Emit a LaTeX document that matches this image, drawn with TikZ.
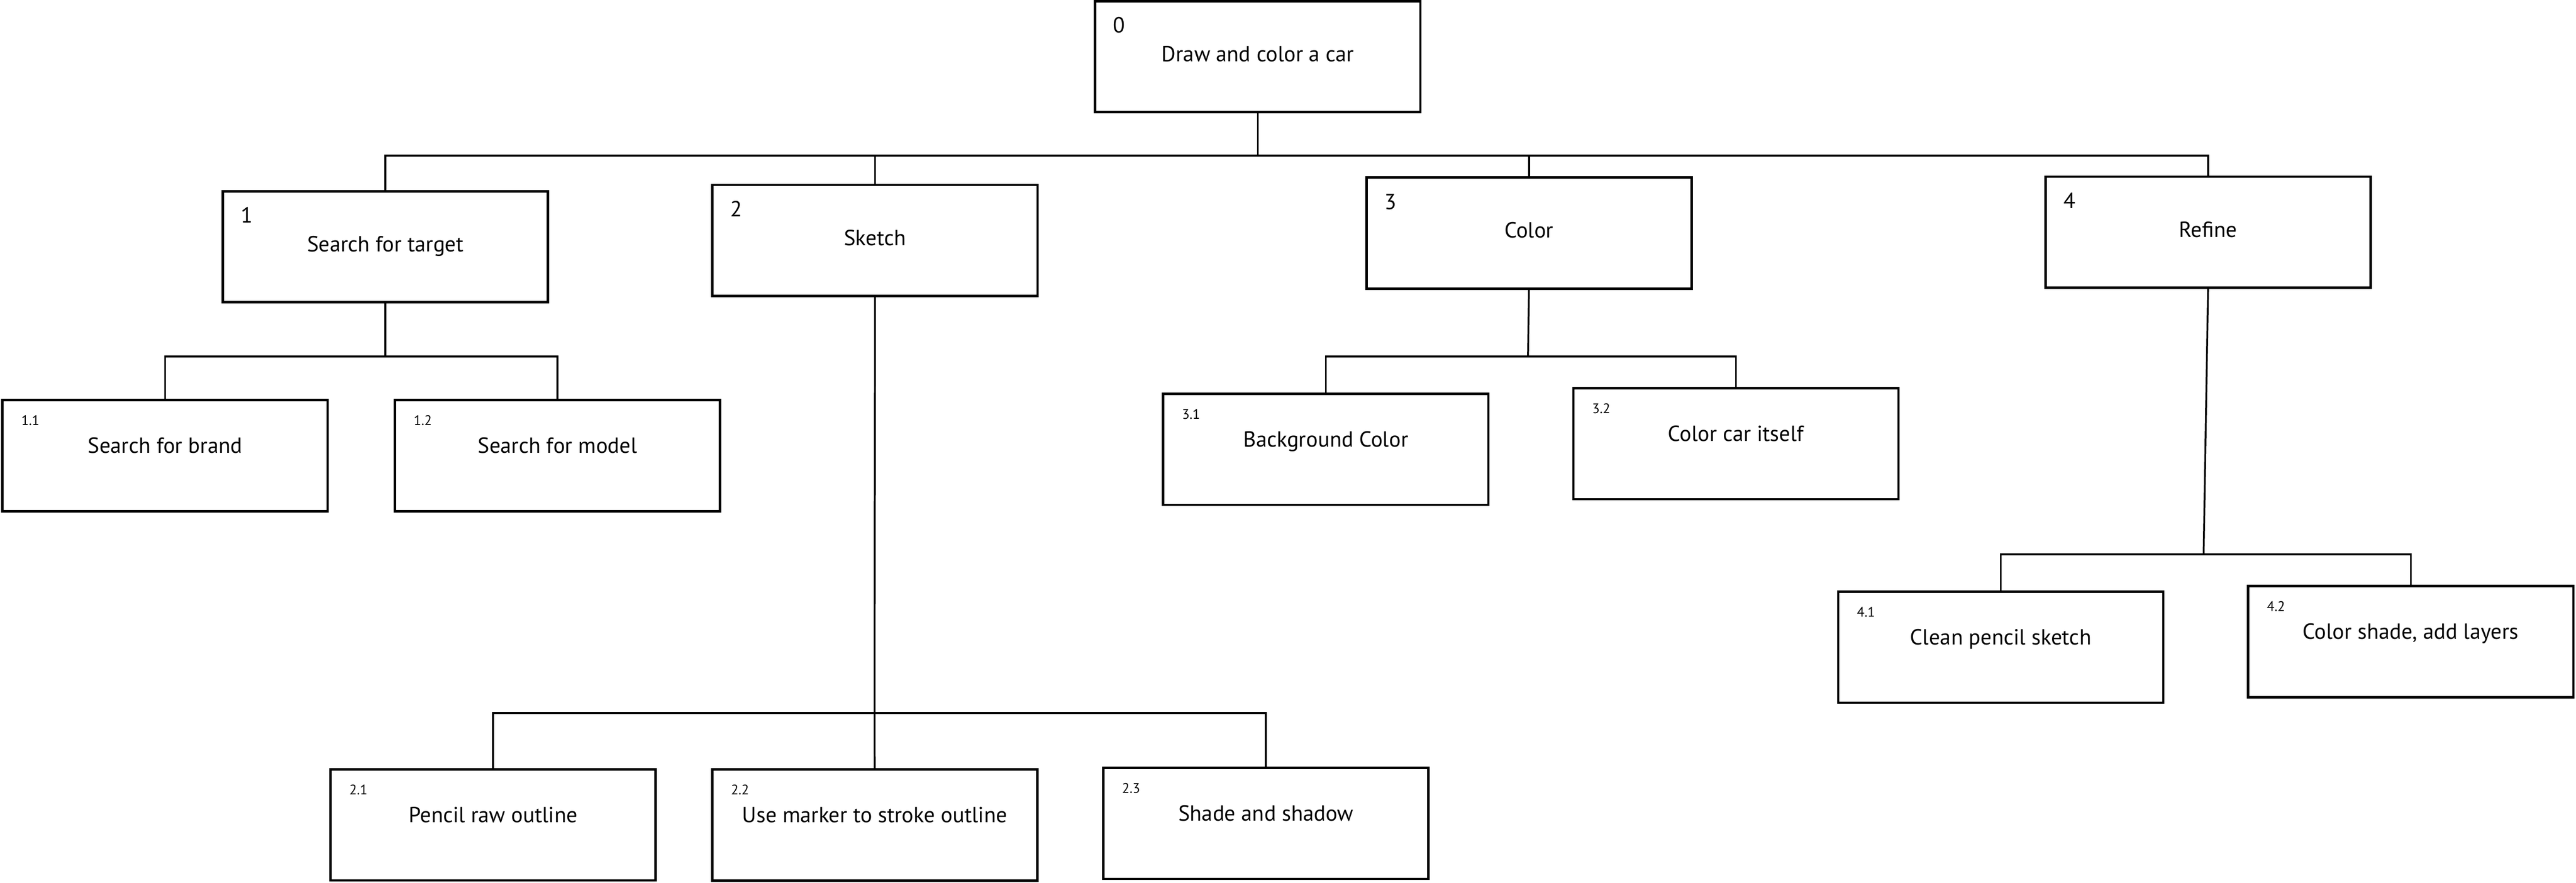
\documentclass[tikz,border=0pt]{standalone}
\usepackage{fontspec}
\setmainfont{PT Sans}
\usepackage{tikz}

\tikzset{
    task/.style={draw, line width=1.5pt, minimum width=70mm, minimum height=23.9mm, inner sep=0},
    tasknum/.style={anchor=base west, inner sep=0, font=\fontsize{13.4}{16}\selectfont},
    subnum/.style={anchor=base west, inner sep=0, font=\fontsize{8.5}{10}\selectfont},
    tasktext/.style={anchor=base, inner sep=0, font=\fontsize{13.4}{16}\selectfont},
    link/.style={line width=1.1pt}
}

\begin{document}
\begin{tikzpicture}[x=0.3536mm, y=-0.3536mm]

    \useasboundingbox (0, 0) rectangle (1568.2, 537.3);

    % Goal and steps
    \node[task] (b0) at (765.7, 34.5) {};
    \node[task] (b1) at (234.6, 150.2) {};
    \node[task] (b2) at (532.7, 146.4) {};
    \node[task] (b3) at (930.8, 141.9) {};
    \node[task] (b4) at (1344.2, 141.4) {};

    % Sub-steps
    \node[task] (b11) at (100.5, 277.4) {};
    \node[task] (b12) at (339.4, 277.4) {};
    \node[task] (b21) at (300.2, 502.2) {};
    \node[task] (b22) at (532.5, 502.3) {};
    \node[task] (b23) at (770.6, 501.3) {};
    \node[task] (b31) at (807.1, 273.6) {};
    \node[task] (b32) at (1056.8, 270.1) {};
    \node[task] (b41) at (1218.0, 394.0) {};
    \node[task] (b42) at (1467.6, 390.6) {};

    % Texts
    \foreach \b/\n/\t in {b0/0/Draw and color a car, b1/1/Search for target,
        b2/2/Sketch, b3/3/Color, b4/4/Refine} {
        \node[tasknum] (\b-num) at ([shift={(11.5, 20)}]\b.north west) {\n};
        \node[tasktext] (\b-text) at ([shift={(0, 37.5)}]\b.north) {\t};
    }
    \foreach \b/\n/\t in {b11/1.1/Search for brand, b12/1.2/Search for model,
        b21/2.1/Pencil raw outline, b22/2.2/Use marker to stroke outline,
        b23/2.3/Shade and shadow, b31/3.1/Background Color,
        b32/3.2/Color car itself, b41/4.1/Clean pencil sketch,
        b42/4.2/{Color shade, add layers}} {
        \node[subnum] (\b-num) at ([shift={(12, 16)}]\b.north west) {\n};
        \node[tasktext] (\b-text) at ([shift={(0, 33)}]\b.north) {\t};
    }

    % Junctions
    \coordinate (j0) at (765.7, 94.7);
    \coordinate (j1) at (234.6, 217.1);
    \coordinate (j2) at (532.4, 434.1);
    \coordinate (j3) at (930.2, 217.1);
    \coordinate (j4) at (1341.5, 337.5);

    % Lines
    \draw[link] (b0.south) -- (j0);
    \draw[link] (b1.north) |- (j0) -| (b4.north);
    \foreach \x in {b2, b3}
        \draw[link] (\x.north) -- (\x.north |- j0);

    \foreach \x in {1, 2, 3, 4}
        \draw[link] (b\x.south) -- (j\x);

    \draw[link] (b11.north) |- (j1) -| (b12.north);
    \draw[link] (b21.north) |- (j2) -| (b23.north);
    \draw[link] (j2) -- (b22.north);
    \draw[link] (b31.north) |- (j3) -| (b32.north);
    \draw[link] (b41.north) |- (j4) -| (b42.north);

\end{tikzpicture}
\end{document}
